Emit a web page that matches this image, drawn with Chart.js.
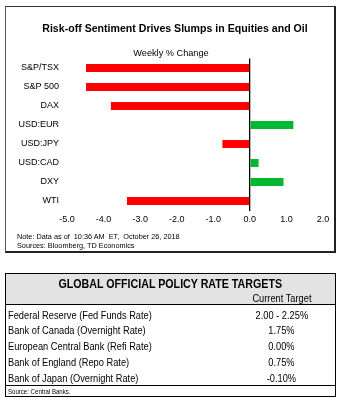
<!DOCTYPE html>
<html>
<head>
<meta charset="utf-8">
<script src="https://cdn.jsdelivr.net/npm/chart.js@4"></script>
<style>
  body { margin: 0; background: #fff; font-family: 'Liberation Sans', Arial, sans-serif; }
  #page { position: relative; width: 343px; height: 403px; overflow: hidden; }
  #chartBox { position: absolute; left: 5px; top: 6px; width: 328px; height: 244px;
    border-left: 1px solid #555; border-top: 1px solid #333; border-right: 2px solid #222; border-bottom: 2px solid #222; }
  #chart { position: absolute; left: 0; top: 0; }
  #title { position: absolute; left: 0; top: 21.5px; width: 350px; text-align: center; font-weight: bold; font-size: 10.6px; line-height: 13px; color: #000; }
  #subtitle { position: absolute; left: 0; top: 47.5px; width: 342px; text-align: center; font-size: 9.2px; line-height: 11px; color: #000; }
  .note { position: absolute; left: 17px; font-size: 7.3px; line-height: 9px; color: #000; white-space: pre; }
  #tbl { position: absolute; left: 5px; top: 273px; width: 329px; height: 122px; border: 1.5px solid #000;
    font-family: 'Liberation Sans', Arial, sans-serif; color: #000; }
  /* no narrow face installed: squeeze the regular one */
  .nar { display: inline-block; transform: scaleX(0.8); white-space: nowrap; }
  .nar.l { transform-origin: left center; }
  .nar.c { transform-origin: center center; }
  #tblHead { position: absolute; left: 0; top: 0; width: 100%; height: 30px; background: #e3e3e3; border-bottom: 1.5px solid #000; }
  #tblTitle { position: absolute; left: 0; top: 1.5px; width: 100%; text-align: center; font-weight: bold; font-size: 13px; line-height: 16px; }
  #tblTitle .nar { transform: scaleX(0.82); }
  #tblSub { position: absolute; left: 220px; top: 16.5px; width: 111px; text-align: center; font-size: 11.6px; line-height: 14px; }
  .row { position: absolute; left: 0; width: 100%; height: 15.8px; font-size: 11.6px; line-height: 15.8px; }
  .row .bank { position: absolute; left: 1.5px; }
  .row .rate { position: absolute; left: 220px; width: 111px; text-align: center; }
  #tblSrc { position: absolute; left: 0; top: 111px; width: 100%; height: 11px; border-top: 1px solid #000;
    font-size: 7.6px; line-height: 11px; }
  #tblSrc .nar { margin-left: 1.5px; }
</style>
</head>
<body>
<div id="page">
  <div id="chartBox"></div>
  <canvas id="chart" width="343" height="255"></canvas>
  <div id="title">Risk-off Sentiment Drives Slumps in Equities and Oil</div>
  <div id="subtitle">Weekly % Change</div>
  <div class="note" style="top: 231.5px;">Note: Data as of  10:36 AM  ET,  October 26, 2018</div>
  <div class="note" style="top: 240.5px;">Sources: Bloomberg, TD Economics</div>

  <div id="tbl">
    <div id="tblHead">
      <div id="tblTitle"><span class="nar c">GLOBAL OFFICIAL POLICY RATE TARGETS</span></div>
      <div id="tblSub"><span class="nar c">Current Target</span></div>
    </div>
    <div id="tblRows"></div>
    <div id="tblSrc"><span class="nar l">Source: Central Banks.</span></div>
  </div>
</div>

<script>
// chart data
const categories = ['S&P/TSX', 'S&P 500', 'DAX', 'USD:EUR', 'USD:JPY', 'USD:CAD', 'DXY', 'WTI'];
const weeklyChange = [-4.48, -4.48, -3.80, 1.19, -0.75, 0.24, 0.92, -3.36];
const xTicks = [-5, -4, -3, -2, -1, 0, 1, 2];

// table data
const banks = ['Federal Reserve (Fed Funds Rate)', 'Bank of Canada (Overnight Rate)', 'European Central Bank (Refi Rate)',
  'Bank of England (Repo Rate)', 'Bank of Japan (Overnight Rate)'];
const rates = ['2.00 - 2.25%', '1.75%', '0.00%', '0.75%', '-0.10%'];

const RED = '#ff0000';
const GREEN = '#00b831';

Chart.defaults.font.family = "'Liberation Sans', Arial, sans-serif";
Chart.defaults.color = '#000';

const ctx = document.getElementById('chart').getContext('2d');
const myChart = new Chart(ctx, {
  type: 'bar',
  data: {
    labels: categories,
    datasets: [{
      data: weeklyChange,
      backgroundColor: weeklyChange.map(v => v < 0 ? RED : GREEN),
      borderWidth: 0,
      barPercentage: 0.42,
      categoryPercentage: 1
    }]
  },
  options: {
    indexAxis: 'y',
    responsive: false,
    animation: false,
    layout: { padding: { left: 0, right: 20, top: 58.5, bottom: 0 } },
    plugins: {
      legend: { display: false },
      tooltip: { enabled: false }
    },
    scales: {
      x: {
        min: xTicks[0],
        max: xTicks[xTicks.length - 1],
        afterBuildTicks: s => { s.ticks = xTicks.map(v => ({ value: v })) },
        afterFit: s => { s.height = 44.5 },
        border: { display: false },
        grid: {
          drawTicks: false,
          lineWidth: 1.3,
          color: c => (c.tick && c.tick.value === 0) ? '#000' : 'rgba(0,0,0,0)'
        },
        ticks: {
          padding: 4,
          font: { size: 9 },
          color: '#000',
          maxRotation: 0,
          callback: v => v.toFixed(1)
        }
      },
      y: {
        afterFit: s => { s.width = 67 },
        border: { display: false },
        grid: { display: false, drawTicks: false },
        ticks: { padding: 8, font: { size: 9 }, color: '#000' }
      }
    }
  }
});

// table rows
let rowsBox = document.getElementById('tblRows');
banks.forEach((b, i) => {
  let row = document.createElement('div');
  row.className = 'row';
  row.style.top = (32.5 + i * 15.8) + 'px';

  let name = document.createElement('span');
  name.className = 'bank';
  name.innerHTML = '<span class="nar l"></span>';
  name.firstChild.textContent = b;

  let rate = document.createElement('span');
  rate.className = 'rate';
  rate.innerHTML = '<span class="nar c"></span>';
  rate.firstChild.textContent = rates[i];

  row.appendChild(name);
  row.appendChild(rate);
  rowsBox.appendChild(row);
});
</script>
</body>
</html>
